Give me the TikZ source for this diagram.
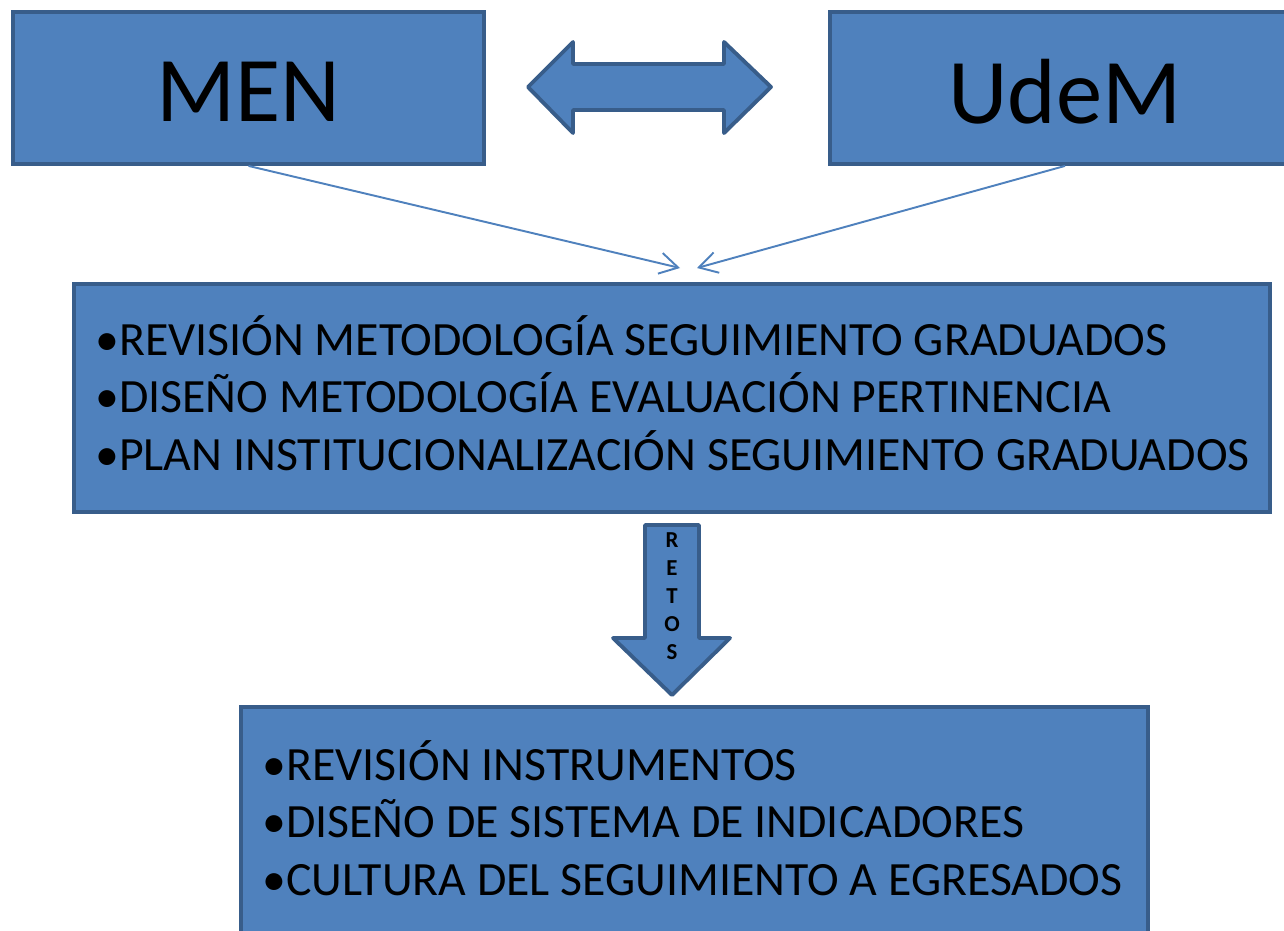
\documentclass[tikz,border=0pt]{standalone}
\usepackage{fontspec}
\setmainfont{Carlito}
\usetikzlibrary{arrows.meta}
\definecolor{boxfill}{HTML}{4F81BD}
\definecolor{boxline}{HTML}{385D8A}

\begin{document}
\begin{tikzpicture}[x=0.02cm,y=-0.02cm,
    box/.style={draw=boxline,fill=boxfill,line width=2.2pt,inner sep=0pt},
    blockarrow/.style={draw=boxline,fill=boxfill,line width=2.2pt,line join=round},
    link/.style={draw=boxfill,line width=1.1pt,-{Straight Barb[angle=60:12pt]}},
    bigname/.style={font=\fontsize{52.7}{60}\selectfont},
    items/.style={anchor=base west,align=left,inner sep=0pt,font=\fontsize{27.2}{32.6}\selectfont}]
  \useasboundingbox (0,0) rectangle (1284,930);

  % top boxes
  \node[box,minimum width=9.42cm,minimum height=3.04cm] (men) at (248.5,88) {};
  \node[box,minimum width=9.4cm,minimum height=3.04cm] (udem) at (1065,88) {};
  \node[bigname] (mentext) at (248.5,92) {MEN};
  \node[bigname] (udemtext) at (1065,92) {UdeM};

  % double arrow between them
  \draw[blockarrow] (528,87) -- (573,42) -- (573,64) -- (724,64) -- (724,42)
    -- (771,87) -- (724,133) -- (724,110) -- (573,110) -- (573,133) -- cycle;

  % middle box
  \node[box,minimum width=23.92cm,minimum height=4.56cm] (plan) at (672,398) {};
  \node[items] (plantext) at (95,470) {%
    •REVISIÓN METODOLOGÍA SEGUIMIENTO GRADUADOS\\
    •DISEÑO METODOLOGÍA EVALUACIÓN PERTINENCIA\\
    •PLAN INSTITUCIONALIZACIÓN SEGUIMIENTO GRADUADOS};

  \coordinate (meet1) at (680,268);
  \coordinate (meet2) at (697,268);
  \draw[link] (men.south) -- (meet1);
  \draw[link] (udem.south) -- (meet2);

  % retos arrow
  \draw[blockarrow] (645,525) -- (699,525) -- (699,638) -- (730,638) -- (672,695)
    -- (613,638) -- (645,638) -- cycle;
  \node[align=center,inner sep=0pt,font=\fontsize{13}{15.9}\selectfont\bfseries] (retos) at (672,596) {R\\E\\T\\O\\S};

  % bottom box
  \node[box,minimum width=18.14cm,minimum height=4.86cm] (retosbox) at (694.5,828.5) {};
  \node[items] (retostext) at (262,895) {%
    •REVISIÓN INSTRUMENTOS\\
    •DISEÑO DE SISTEMA DE INDICADORES\\
    •CULTURA DEL SEGUIMIENTO A EGRESADOS};
\end{tikzpicture}
\end{document}
